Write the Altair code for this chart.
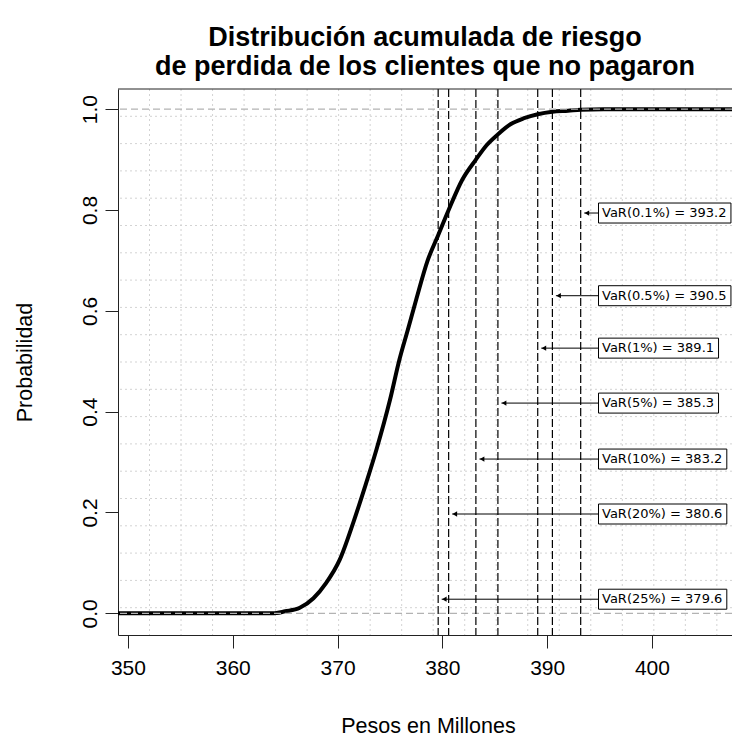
import altair as alt
import pandas as pd

# ---------------- data ----------------
title_lines = ["Distribución acumulada de riesgo", "de perdida de los clientes que no pagaron"]

curve_x = [349.0, 363.8, 365.0, 366.4, 367.7, 368.9, 370.2, 371.5, 372.6, 373.7,
           375.0, 375.9, 376.7, 377.5, 378.6, 379.6, 380.6, 381.9, 383.2, 384.2,
           385.3, 386.5, 387.8, 389.1, 390.5, 392.0, 393.2, 395.4, 410.0]
curve_p = [0.0, 0.0, 0.004, 0.011, 0.03, 0.06, 0.106, 0.18, 0.25, 0.324,
           0.423, 0.503, 0.562, 0.622, 0.70, 0.75, 0.80, 0.86, 0.90, 0.928,
           0.95, 0.97, 0.982, 0.99, 0.995, 0.997, 0.999, 1.0, 1.0]

var_labels = ["VaR(0.1%) = 393.2", "VaR(0.5%) = 390.5", "VaR(1%) = 389.1",
              "VaR(5%) = 385.3", "VaR(10%) = 383.2", "VaR(20%) = 380.6",
              "VaR(25%) = 379.6"]
var_values = [393.2, 390.5, 389.1, 385.3, 383.2, 380.6, 379.6]
label_p = [0.794, 0.630, 0.526, 0.417, 0.306, 0.197, 0.028]

x_ticks = [350, 360, 370, 380, 390, 400]
y_ticks = [0.0, 0.2, 0.4, 0.6, 0.8, 1.0]
hlines = [0.0, 1.0]

# ---------------- layout ----------------
W, H = 614, 546
XMIN = 349.05
PX_PER_UNIT = 10.48
XMAX = XMIN + W / PX_PER_UNIT
YMIN, YMAX = -0.043, 1.04
PXU_X = W / (XMAX - XMIN)
PXU_Y = H / (YMAX - YMIN)

# R-style grid: 20 equal divisions of the full user range
R_XMAX = 409.2
gx = [XMIN + k * (R_XMAX - XMIN) / 20 for k in range(1, 20)]
gx = [v for v in gx if v < XMAX]
gy = [YMIN + k * (YMAX - YMIN) / 20 for k in range(1, 20)]

FONT = "Liberation Sans"
BOX_FONT = "DejaVu Sans"
BOX_FS = 13
_w = {'V': 1401, 'a': 1255, 'R': 1423, '(': 799, ')': 799, '.': 651,
      '%': 1946, ' ': 651, '=': 1716}


def text_w(s):
    return sum(_w.get(c, 1303) for c in s) * BOX_FS / 2048


box_left = 394.9
box_half = 10 / PXU_Y
lab_df = pd.DataFrame({
    "label": var_labels,
    "var": var_values,
    "lp": label_p,
})
lab_df["bl"] = box_left
lab_df["br"] = [box_left + (text_w(s) + 7) / PXU_X for s in var_labels]
lab_df["top"] = lab_df["lp"] + box_half
lab_df["bot"] = lab_df["lp"] - box_half
lab_df["tip"] = lab_df["var"] + 3.5 / PXU_X
lab_df["head"] = lab_df["tip"] + 2.7 / PXU_X

xs = alt.Scale(domain=[XMIN, XMAX], nice=False, zero=False)
ys = alt.Scale(domain=[YMIN, YMAX], nice=False, zero=False)

AX = "#222222"
x_axis = alt.Axis(values=x_ticks, format="d", grid=False, domain=True, domainColor=AX,
                  domainWidth=1, ticks=True, tickColor=AX, tickSize=13, tickWidth=1,
                  labelFont=FONT, labelFontSize=21, labelColor="black", labelPadding=9,
                  labelFlush=False, labelOverlap=False,
                  title="Pesos en Millones", titleFont=FONT, titleFontSize=21.5,
                  titleFontWeight="normal", titleColor="black", titleX=W / 2 + 3,
                  titleY=97, titleAlign="center", titleBaseline="alphabetic")
y_axis = alt.Axis(values=y_ticks, format=".1f", grid=False, domain=True, domainColor=AX,
                  domainWidth=1, ticks=True, tickColor=AX, tickSize=13, tickWidth=1,
                  labelFont=FONT, labelFontSize=21, labelColor="black", labelPadding=5,
                  labelAngle=270, labelAlign="center", labelBaseline="bottom",
                  labelFlush=False, labelOverlap=False,
                  title="Probabilidad", titleFont=FONT, titleFontSize=21.5,
                  titleFontWeight="normal", titleColor="black", titleAngle=270,
                  titleX=-93, titleY=H / 2, titleAlign="center", titleBaseline="middle")

grid_v = alt.Chart(pd.DataFrame({"gx": gx})).mark_rule(
    color="#d3d3d3", strokeDash=[2, 3], strokeWidth=1
).encode(x=alt.X("gx:Q", scale=xs, axis=x_axis))

grid_h = alt.Chart(pd.DataFrame({"gy": gy})).mark_rule(
    color="#d3d3d3", strokeDash=[2, 3], strokeWidth=1
).encode(y=alt.Y("gy:Q", scale=ys, axis=y_axis))

curve = alt.Chart(pd.DataFrame({"x": curve_x, "p": curve_p})).mark_line(
    color="black", strokeWidth=4, clip=True, interpolate="monotone"
).encode(x=alt.X("x:Q", scale=xs, axis=x_axis),
         y=alt.Y("p:Q", scale=ys, axis=y_axis))

hl = alt.Chart(pd.DataFrame({"h": hlines})).mark_rule(
    color="#b3b3b3", strokeDash=[7, 4], strokeWidth=1.3
).encode(y=alt.Y("h:Q", scale=ys, axis=y_axis))

vlines = alt.Chart(pd.DataFrame({"v": var_values})).mark_rule(
    color="black", strokeDash=[8, 3], strokeWidth=1.2
).encode(x=alt.X("v:Q", scale=xs, axis=x_axis))

base = alt.Chart(lab_df)
arrows = base.mark_rule(color="black", strokeWidth=1).encode(
    x=alt.X("bl:Q", scale=xs, axis=x_axis), x2="tip:Q",
    y=alt.Y("lp:Q", scale=ys, axis=y_axis))
heads = base.mark_point(shape="triangle-left", filled=True, size=28, color="black",
                        opacity=1).encode(
    x=alt.X("head:Q", scale=xs, axis=x_axis), y=alt.Y("lp:Q", scale=ys, axis=y_axis))
boxes = base.mark_rect(fill="white", stroke="black", strokeWidth=1).encode(
    x=alt.X("bl:Q", scale=xs, axis=x_axis), x2="br:Q",
    y=alt.Y("top:Q", scale=ys, axis=y_axis), y2="bot:Q")
texts = base.mark_text(align="left", baseline="middle", dx=3.5, font=BOX_FONT,
                       fontSize=BOX_FS, color="black").encode(
    x=alt.X("bl:Q", scale=xs, axis=x_axis), y=alt.Y("lp:Q", scale=ys, axis=y_axis),
    text="label:N")

top_border = alt.Chart(pd.DataFrame({"k": [0]})).mark_rule(
    color=AX, strokeWidth=1
).encode(x=alt.value(0), x2=alt.value(W), y=alt.value(0))

chart = alt.layer(
    grid_v, grid_h, curve, hl, vlines, arrows, heads, boxes, texts, top_border
).properties(
    width=W, height=H,
    padding={"left": 110, "top": 81, "right": 0, "bottom": 102},
    autosize=alt.AutoSizeParams(type="none"),
    title=alt.TitleParams(text=title_lines, font=FONT, fontSize=27, fontWeight="bold",
                          anchor="middle", offset=7, lineHeight=29, color="black",
                          frame="group"),
).configure(background="white").configure_view(stroke=None)

chart.save("out.html", embed_options={"renderer": "svg", "actions": False})
